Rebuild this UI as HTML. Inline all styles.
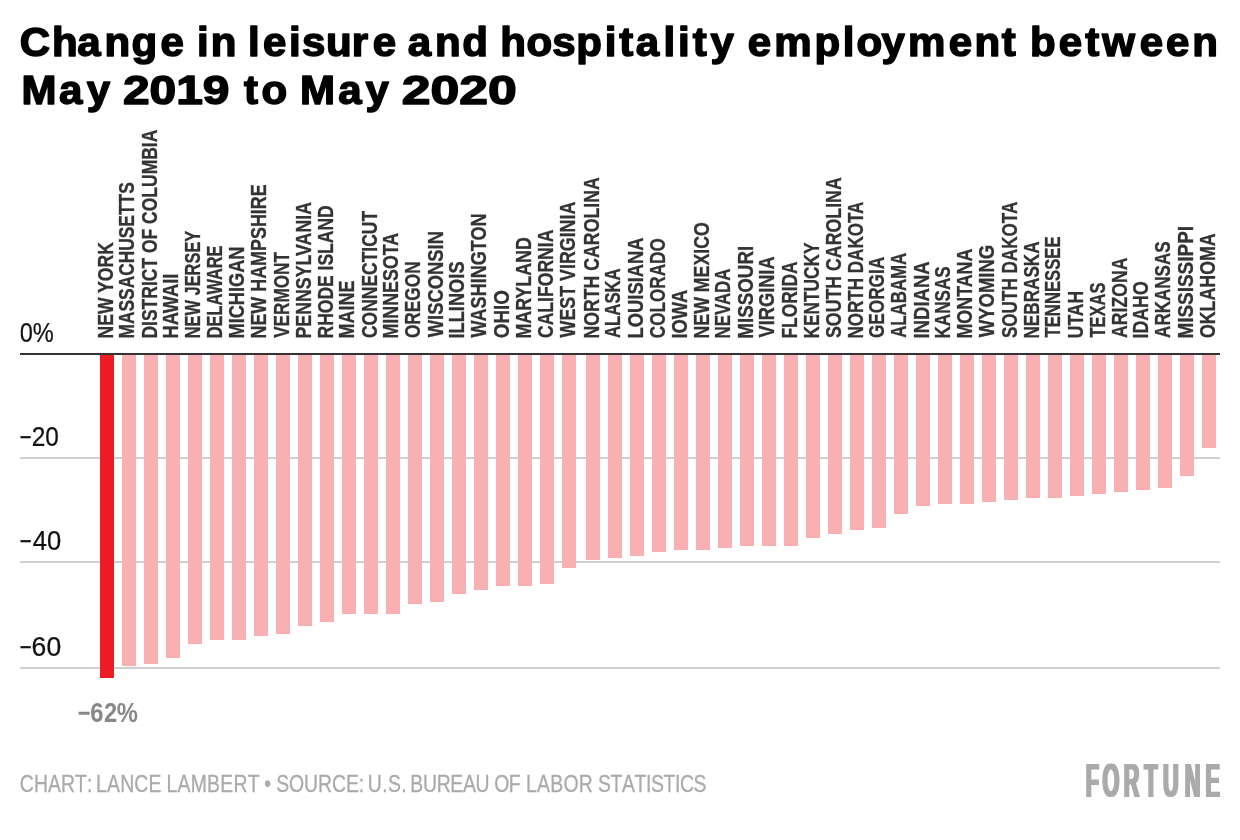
<!DOCTYPE html>
<html lang="en">
<head>
<meta charset="utf-8">
<title>Change in leisure and hospitality employment between May 2019 to May 2020</title>
<style>
html,body{margin:0;padding:0;background:#fff;}
body{width:1240px;height:840px;overflow:hidden;font-family:"Liberation Sans",sans-serif;}
svg{display:block;}
text{font-family:"Liberation Sans",sans-serif;white-space:pre;}
.title{font-weight:bold;font-size:41px;fill:#000;stroke:#000;stroke-width:1.5px;stroke-linejoin:round;}
.ax{font-size:26.8px;fill:#111;stroke:#111;stroke-width:0.25px;}
.lab{font-weight:bold;font-size:21.4px;fill:#333;stroke:#333;stroke-width:0.3px;}
.val{font-weight:bold;font-size:27px;fill:#888;}
.foot{font-size:24.4px;fill:#aaa;stroke:#aaa;stroke-width:0.3px;}
.logo{font-weight:bold;font-size:47.2px;fill:#aaa;}
.grid rect{fill:#d0d0d0;}
.bars rect{fill:#f9b0b3;}
.bars rect.hl{fill:#ed1c24;}
</style>
</head>
<body>
<svg width="1240" height="840" viewBox="0 0 1240 840">
<rect x="0" y="0" width="1240" height="840" fill="#fff"/>
<g class="titles">
<text class="title" y="56.4" x="19.26 50.73 75.38 102.03 128.25 156.5 168.8 192.13 205.59 217.89 241.93 256.65 281.89 294.72 318.09 343.27 363.62 375.92 397.87 424.52 451.06 463.36 488.1 513.62 538.82 562.09 589.93 604.1 620.26 647.35 661.4 675.95 693.23 705.53 729.62 755.4 794.53 822.32 835.62 859.91 885.84 925.57 950.86 977.42 989.72 1004.82 1032.89 1058.73 1075.34 1112.01 1137.67 1163.11" transform="scale(1.025 1)">Change in leisure and hospitality employment between</text>
<text class="title" y="104.4" transform="scale(1.025 1)"><tspan x="20.87 57.67 84.7 97">May </tspan><tspan x="119.92" textLength="103.89" lengthAdjust="spacingAndGlyphs">2019</tspan><tspan x="212.22 238 255.23 267.53 292.58 329.97 356.65 368.95"> to May </tspan><tspan x="392.05" textLength="112.12" lengthAdjust="spacingAndGlyphs">2020</tspan></text>
</g>
<g class="grid" shape-rendering="crispEdges">
<rect x="20" y="457" width="1200" height="2"/>
<rect x="20" y="561" width="1200" height="2"/>
<rect x="20" y="667" width="1200" height="2"/>
</g>
<g class="bars" shape-rendering="crispEdges">
<rect class="hl" x="100" y="354" width="14" height="324"/>
<rect x="122" y="354" width="14" height="312"/>
<rect x="144" y="354" width="14" height="310"/>
<rect x="166" y="354" width="14" height="304"/>
<rect x="188" y="354" width="14" height="290"/>
<rect x="210" y="354" width="14" height="286"/>
<rect x="232" y="354" width="14" height="286"/>
<rect x="254" y="354" width="14" height="282"/>
<rect x="276" y="354" width="14" height="280"/>
<rect x="298" y="354" width="14" height="272"/>
<rect x="320" y="354" width="14" height="268"/>
<rect x="342" y="354" width="14" height="260"/>
<rect x="364" y="354" width="14" height="260"/>
<rect x="386" y="354" width="14" height="260"/>
<rect x="408" y="354" width="14" height="250"/>
<rect x="430" y="354" width="14" height="248"/>
<rect x="452" y="354" width="14" height="240"/>
<rect x="474" y="354" width="14" height="236"/>
<rect x="496" y="354" width="14" height="232"/>
<rect x="518" y="354" width="14" height="232"/>
<rect x="540" y="354" width="14" height="230"/>
<rect x="562" y="354" width="14" height="214"/>
<rect x="586" y="354" width="14" height="206"/>
<rect x="608" y="354" width="14" height="204"/>
<rect x="630" y="354" width="14" height="202"/>
<rect x="652" y="354" width="14" height="198"/>
<rect x="674" y="354" width="14" height="196"/>
<rect x="696" y="354" width="14" height="196"/>
<rect x="718" y="354" width="14" height="194"/>
<rect x="740" y="354" width="14" height="192"/>
<rect x="762" y="354" width="14" height="192"/>
<rect x="784" y="354" width="14" height="192"/>
<rect x="806" y="354" width="14" height="184"/>
<rect x="828" y="354" width="14" height="180"/>
<rect x="850" y="354" width="14" height="176"/>
<rect x="872" y="354" width="14" height="174"/>
<rect x="894" y="354" width="14" height="160"/>
<rect x="916" y="354" width="14" height="152"/>
<rect x="938" y="354" width="14" height="150"/>
<rect x="960" y="354" width="14" height="150"/>
<rect x="982" y="354" width="14" height="148"/>
<rect x="1004" y="354" width="14" height="146"/>
<rect x="1026" y="354" width="14" height="144"/>
<rect x="1048" y="354" width="14" height="144"/>
<rect x="1070" y="354" width="14" height="142"/>
<rect x="1092" y="354" width="14" height="140"/>
<rect x="1114" y="354" width="14" height="138"/>
<rect x="1136" y="354" width="14" height="136"/>
<rect x="1158" y="354" width="14" height="134"/>
<rect x="1180" y="354" width="14" height="122"/>
<rect x="1202" y="354" width="14" height="94"/>
</g>
<rect x="20" y="353" width="1200" height="2" fill="#333" shape-rendering="crispEdges"/>
<g class="labels">
<text class="lab" transform="translate(113.0 338.51) rotate(-90)" textLength="96.36" lengthAdjust="spacingAndGlyphs">NEW YORK</text>
<text class="lab" transform="translate(133.9 338.51) rotate(-90)" textLength="156.23" lengthAdjust="spacingAndGlyphs">MASSACHUSETTS</text>
<text class="lab" transform="translate(156.9 338.53) rotate(-90)" textLength="208.88" lengthAdjust="spacingAndGlyphs">DISTRICT OF COLUMBIA</text>
<text class="lab" transform="translate(177.9 338.51) rotate(-90)" textLength="64.96" lengthAdjust="spacingAndGlyphs">HAWAII</text>
<text class="lab" transform="translate(199.9 338.25) rotate(-90)" textLength="107.51" lengthAdjust="spacingAndGlyphs">NEW JERSEY</text>
<text class="lab" transform="translate(221.9 338.25) rotate(-90)" textLength="92.79" lengthAdjust="spacingAndGlyphs">DELAWARE</text>
<text class="lab" transform="translate(243.9 338.51) rotate(-90)" textLength="91.99" lengthAdjust="spacingAndGlyphs">MICHIGAN</text>
<text class="lab" transform="translate(265.9 338.51) rotate(-90)" textLength="154.20" lengthAdjust="spacingAndGlyphs">NEW HAMPSHIRE</text>
<text class="lab" transform="translate(288.9 337.87) rotate(-90)" textLength="85.76" lengthAdjust="spacingAndGlyphs">VERMONT</text>
<text class="lab" transform="translate(310.9 338.51) rotate(-90)" textLength="136.56" lengthAdjust="spacingAndGlyphs">PENNSYLVANIA</text>
<text class="lab" transform="translate(332.9 338.51) rotate(-90)" textLength="133.25" lengthAdjust="spacingAndGlyphs">RHODE ISLAND</text>
<text class="lab" transform="translate(353.9 338.51) rotate(-90)" textLength="58.04" lengthAdjust="spacingAndGlyphs">MAINE</text>
<text class="lab" transform="translate(376.9 338.06) rotate(-90)" textLength="127.14" lengthAdjust="spacingAndGlyphs">CONNECTICUT</text>
<text class="lab" transform="translate(397.9 338.51) rotate(-90)" textLength="105.73" lengthAdjust="spacingAndGlyphs">MINNESOTA</text>
<text class="lab" transform="translate(419.9 338.11) rotate(-90)" textLength="76.71" lengthAdjust="spacingAndGlyphs">OREGON</text>
<text class="lab" transform="translate(442.9 337.31) rotate(-90)" textLength="106.28" lengthAdjust="spacingAndGlyphs">WISCONSIN</text>
<text class="lab" transform="translate(463.9 338.54) rotate(-90)" textLength="77.11" lengthAdjust="spacingAndGlyphs">ILLINOIS</text>
<text class="lab" transform="translate(485.9 337.44) rotate(-90)" textLength="123.95" lengthAdjust="spacingAndGlyphs">WASHINGTON</text>
<text class="lab" transform="translate(508.9 338.22) rotate(-90)" textLength="48.21" lengthAdjust="spacingAndGlyphs">OHIO</text>
<text class="lab" transform="translate(531.0 338.51) rotate(-90)" textLength="101.32" lengthAdjust="spacingAndGlyphs">MARYLAND</text>
<text class="lab" transform="translate(553.0 338.07) rotate(-90)" textLength="108.46" lengthAdjust="spacingAndGlyphs">CALIFORNIA</text>
<text class="lab" transform="translate(575.0 337.39) rotate(-90)" textLength="135.72" lengthAdjust="spacingAndGlyphs">WEST VIRGINIA</text>
<text class="lab" transform="translate(599.0 338.51) rotate(-90)" textLength="161.21" lengthAdjust="spacingAndGlyphs">NORTH CAROLINA</text>
<text class="lab" transform="translate(620.0 338.00) rotate(-90)" textLength="69.70" lengthAdjust="spacingAndGlyphs">ALASKA</text>
<text class="lab" transform="translate(643.0 338.51) rotate(-90)" textLength="101.10" lengthAdjust="spacingAndGlyphs">LOUISIANA</text>
<text class="lab" transform="translate(665.0 338.13) rotate(-90)" textLength="99.92" lengthAdjust="spacingAndGlyphs">COLORADO</text>
<text class="lab" transform="translate(687.0 338.60) rotate(-90)" textLength="48.98" lengthAdjust="spacingAndGlyphs">IOWA</text>
<text class="lab" transform="translate(709.0 338.51) rotate(-90)" textLength="116.35" lengthAdjust="spacingAndGlyphs">NEW MEXICO</text>
<text class="lab" transform="translate(730.0 338.51) rotate(-90)" textLength="70.02" lengthAdjust="spacingAndGlyphs">NEVADA</text>
<text class="lab" transform="translate(753.0 338.66) rotate(-90)" textLength="92.82" lengthAdjust="spacingAndGlyphs">MISSOURI</text>
<text class="lab" transform="translate(774.0 337.42) rotate(-90)" textLength="81.00" lengthAdjust="spacingAndGlyphs">VIRGINIA</text>
<text class="lab" transform="translate(797.0 338.51) rotate(-90)" textLength="77.08" lengthAdjust="spacingAndGlyphs">FLORIDA</text>
<text class="lab" transform="translate(819.0 338.51) rotate(-90)" textLength="95.92" lengthAdjust="spacingAndGlyphs">KENTUCKY</text>
<text class="lab" transform="translate(841.0 337.98) rotate(-90)" textLength="160.68" lengthAdjust="spacingAndGlyphs">SOUTH CAROLINA</text>
<text class="lab" transform="translate(863.0 338.51) rotate(-90)" textLength="136.91" lengthAdjust="spacingAndGlyphs">NORTH DAKOTA</text>
<text class="lab" transform="translate(884.0 338.09) rotate(-90)" textLength="81.34" lengthAdjust="spacingAndGlyphs">GEORGIA</text>
<text class="lab" transform="translate(906.0 337.86) rotate(-90)" textLength="85.12" lengthAdjust="spacingAndGlyphs">ALABAMA</text>
<text class="lab" transform="translate(929.0 338.50) rotate(-90)" textLength="77.14" lengthAdjust="spacingAndGlyphs">INDIANA</text>
<text class="lab" transform="translate(950.0 338.51) rotate(-90)" textLength="72.20" lengthAdjust="spacingAndGlyphs">KANSAS</text>
<text class="lab" transform="translate(972.0 338.51) rotate(-90)" textLength="89.93" lengthAdjust="spacingAndGlyphs">MONTANA</text>
<text class="lab" transform="translate(994.0 337.31) rotate(-90)" textLength="92.49" lengthAdjust="spacingAndGlyphs">WYOMING</text>
<text class="lab" transform="translate(1017.0 338.06) rotate(-90)" textLength="136.34" lengthAdjust="spacingAndGlyphs">SOUTH DAKOTA</text>
<text class="lab" transform="translate(1039.0 338.51) rotate(-90)" textLength="97.05" lengthAdjust="spacingAndGlyphs">NEBRASKA</text>
<text class="lab" transform="translate(1060.0 337.51) rotate(-90)" textLength="101.13" lengthAdjust="spacingAndGlyphs">TENNESSEE</text>
<text class="lab" transform="translate(1083.0 338.25) rotate(-90)" textLength="47.32" lengthAdjust="spacingAndGlyphs">UTAH</text>
<text class="lab" transform="translate(1105.0 337.51) rotate(-90)" textLength="54.90" lengthAdjust="spacingAndGlyphs">TEXAS</text>
<text class="lab" transform="translate(1127.0 337.93) rotate(-90)" textLength="80.56" lengthAdjust="spacingAndGlyphs">ARIZONA</text>
<text class="lab" transform="translate(1148.0 338.44) rotate(-90)" textLength="57.19" lengthAdjust="spacingAndGlyphs">IDAHO</text>
<text class="lab" transform="translate(1170.0 337.88) rotate(-90)" textLength="96.52" lengthAdjust="spacingAndGlyphs">ARKANSAS</text>
<text class="lab" transform="translate(1193.0 338.62) rotate(-90)" textLength="112.70" lengthAdjust="spacingAndGlyphs">MISSISSIPPI</text>
<text class="lab" transform="translate(1215.0 338.08) rotate(-90)" textLength="104.78" lengthAdjust="spacingAndGlyphs">OKLAHOMA</text>
</g>
<defs><clipPath id="cax"><rect x="20.5" y="300" width="120" height="380"/></clipPath><clipPath id="cval"><rect x="78.6" y="690" width="120" height="50"/></clipPath></defs>
<g class="axis" clip-path="url(#cax)">
<text class="ax" y="342" x="22.49 37.34" transform="scale(0.88 1)">0%</text>
<text class="ax" y="446" x="19.6 34.77 49.86" transform="scale(0.91 1)">−20</text>
<text class="ax" y="550" x="17.99 34.17 49.26" transform="scale(0.955 1)">−40</text>
<text class="ax" y="656" x="16.85 31.84 47.03" transform="scale(0.99 1)">−60</text>
</g>
<g clip-path="url(#cval)"><text class="val" y="722" x="87.33 102.42 118.17 132.76" transform="scale(0.88 1)">−62%</text></g>
<text class="foot" y="792" x="25.01 42.71 60.41 76.77 94.47 109.45 116.77 120.79 134.6 151.11 168.97 186.83 194.15 209.47 223.34 239.91 260.54 277.11 293.69 311.61 318.93 332.52 339.84 347.47 363.65 382.53 400.05 417.57 435.1 451.27 458.59 462.73 480.8 488.02 504.73 512.05 516.07 531.97 549.22 566.46 582.36 598.26 605.58 621.64 640.01 647.33 661.67 675.55 692.14 708.72 728.02 735.34 752.19 767.96 782.37 798.15 812.56 818.84 834.62 849.02 855.31 872.43" transform="scale(0.795 1)">CHART: LANCE LAMBERT • SOURCE: U.S. BUREAU OF LABOR STATISTICS</text>
<defs><filter id="fat" x="-5%" y="-20%" width="110%" height="140%"><feMorphology operator="dilate" radius="1 0"/></filter></defs>
<g filter="url(#fat)"><text class="logo" y="797.3" x="2360.58 2396.83 2443.17 2487.47 2528.41 2575.36 2620.78" transform="scale(0.46 1)">FORTUNE</text></g>
</svg>
</body>
</html>
